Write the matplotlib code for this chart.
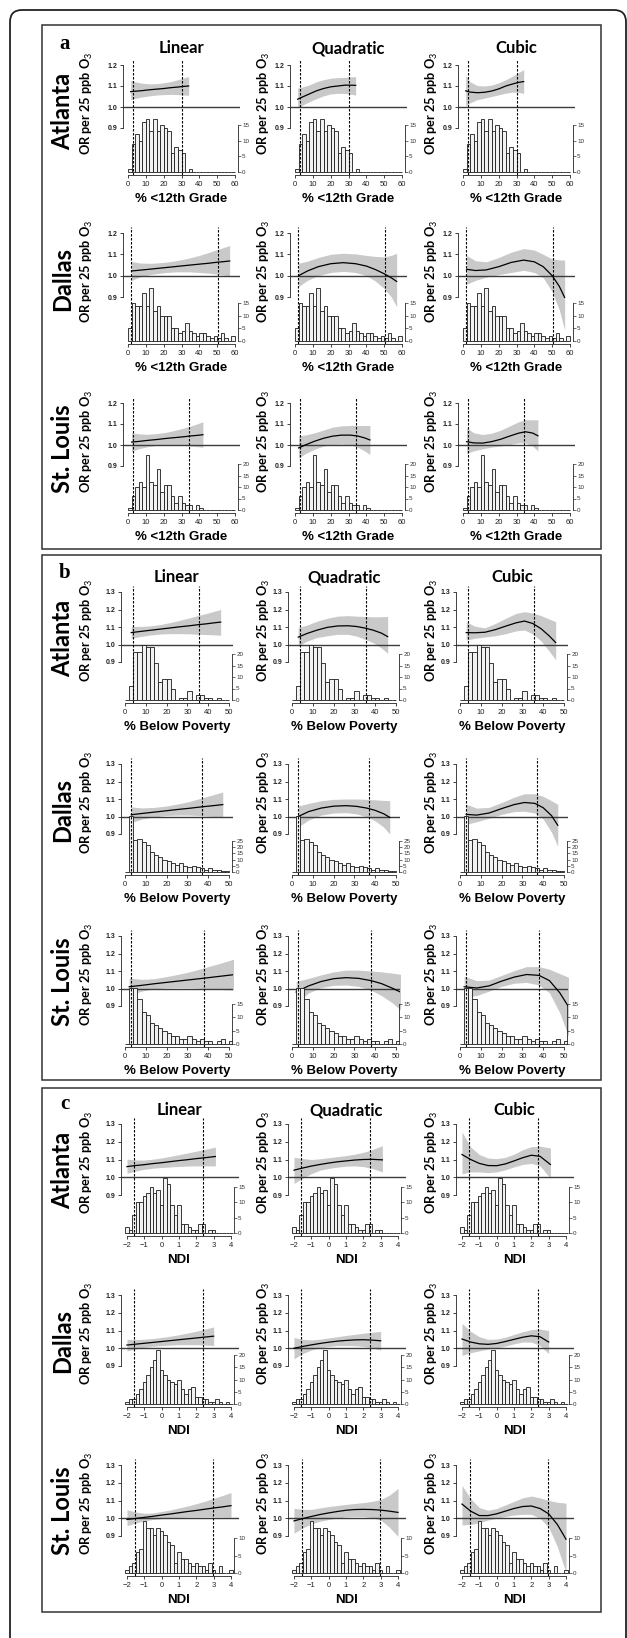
import matplotlib.pyplot as plt
from matplotlib.patches import Rectangle, FancyBboxPatch

plt.rcParams['font.family'] = ['Liberation Sans', 'DejaVu Sans']
plt.rcParams['mathtext.fontset'] = 'custom'
plt.rcParams['mathtext.rm'] = 'Lato'
plt.rcParams['mathtext.it'] = 'Lato:italic'
plt.rcParams['mathtext.bf'] = 'Lato:bold'

models = ["Linear", "Quadratic", "Cubic"]
cities = ["Atlanta", "Dallas", "St. Louis"]

# --- panel a: % <12th Grade ---
a_xlabel = "% <12th Grade"
a_xticks = [0, 10, 20, 30, 40, 50, 60]
a_orticks = [0.9, 1.0, 1.1, 1.2]
a_bin_start, a_bin_width = 0, 2
a_htop = [15, 15, 20]
a_hist_atl = [1, 9, 12, 10, 16, 17, 13, 17, 13, 15, 14, 13, 6, 8, 7, 6, 0, 1,
              0, 0, 0, 0, 0, 0, 0, 0, 0, 0, 0, 0]
a_hist_dal = [5, 15, 14, 14, 19, 14, 21, 12, 14, 10, 10, 10, 5, 5, 3, 4, 7, 4,
              3, 2, 3, 3, 2, 1, 2, 1, 3, 1, 0, 2]
a_hist_stl = [1, 6, 10, 12, 10, 24, 12, 11, 18, 8, 11, 11, 6, 3, 6, 3, 2, 2,
              0, 2, 1, 0, 0, 0, 0, 0, 0, 0, 0, 0]
a_cut_atl, a_cut_dal, a_cut_stl = [2.9, 30.5], [1.9, 50.5], [2.6, 34.3]
a_x_atl = [1.5, 4, 8, 12, 16, 20, 24, 28, 31, 34]
a_est_atl = [[1.073, 1.075, 1.078, 1.082, 1.085, 1.088, 1.092, 1.095, 1.098, 1.100],
             [1.037, 1.047, 1.062, 1.077, 1.088, 1.096, 1.100, 1.104, 1.104, 1.103],
             [1.077, 1.071, 1.068, 1.070, 1.076, 1.086, 1.100, 1.110, 1.117, 1.121]]
a_lo_atl = [[1.035, 1.041, 1.048, 1.053, 1.057, 1.059, 1.060, 1.059, 1.057, 1.056],
            [0.995, 1.008, 1.025, 1.040, 1.053, 1.062, 1.065, 1.065, 1.061, 1.057],
            [1.005, 1.020, 1.035, 1.042, 1.050, 1.058, 1.066, 1.071, 1.070, 1.065]]
a_hi_atl = [[1.128, 1.120, 1.113, 1.110, 1.111, 1.115, 1.121, 1.130, 1.138, 1.145],
            [1.090, 1.095, 1.105, 1.120, 1.130, 1.137, 1.140, 1.141, 1.143, 1.145],
            [1.150, 1.120, 1.102, 1.100, 1.104, 1.115, 1.130, 1.148, 1.163, 1.178]]
a_x_dal = [2, 7, 13, 20, 27, 34, 40, 45, 50, 54, 57]
a_est_dal = [[1.022, 1.026, 1.031, 1.037, 1.043, 1.049, 1.054, 1.058, 1.063, 1.066, 1.069],
             [1.000, 1.022, 1.042, 1.056, 1.061, 1.056, 1.045, 1.029, 1.009, 0.990, 0.973],
             [1.030, 1.024, 1.027, 1.042, 1.062, 1.073, 1.065, 1.042, 1.000, 0.950, 0.898]]
a_lo_dal = [[0.978, 0.995, 1.006, 1.014, 1.018, 1.018, 1.015, 1.012, 1.007, 1.002, 0.998],
            [0.950, 0.978, 1.000, 1.015, 1.020, 1.015, 1.000, 0.975, 0.940, 0.900, 0.855],
            [0.960, 0.978, 0.993, 1.005, 1.015, 1.025, 1.015, 0.990, 0.925, 0.840, 0.745]]
a_hi_dal = [[1.066, 1.059, 1.058, 1.062, 1.070, 1.082, 1.095, 1.108, 1.122, 1.133, 1.141],
            [1.058, 1.068, 1.085, 1.100, 1.105, 1.102, 1.095, 1.090, 1.088, 1.095, 1.105],
            [1.095, 1.070, 1.065, 1.085, 1.110, 1.127, 1.120, 1.100, 1.078, 1.074, 1.073]]
a_x_stl = [2, 6, 11, 16, 21, 26, 31, 35, 39, 42]
a_est_stl = [[1.014, 1.017, 1.022, 1.026, 1.031, 1.035, 1.039, 1.043, 1.046, 1.049],
             [0.986, 1.001, 1.018, 1.032, 1.042, 1.047, 1.047, 1.043, 1.034, 1.024],
             [1.016, 1.010, 1.009, 1.016, 1.027, 1.042, 1.056, 1.063, 1.057, 1.044]]
a_lo_stl = [[0.970, 0.982, 0.992, 0.998, 1.000, 1.000, 0.998, 0.995, 0.992, 0.989],
            [0.938, 0.960, 0.980, 0.995, 1.002, 1.004, 1.000, 0.990, 0.972, 0.955],
            [0.960, 0.972, 0.982, 0.990, 0.995, 1.002, 1.010, 1.010, 0.995, 0.972]]
a_hi_stl = [[1.058, 1.053, 1.051, 1.054, 1.060, 1.069, 1.080, 1.090, 1.101, 1.111],
            [1.044, 1.048, 1.058, 1.071, 1.085, 1.091, 1.093, 1.093, 1.093, 1.093],
            [1.082, 1.058, 1.050, 1.056, 1.070, 1.090, 1.110, 1.120, 1.120, 1.120]]

# --- panel b: % Below Poverty ---
b_xlabel = "% Below Poverty"
b_xticks = [0, 10, 20, 30, 40, 50]
b_orticks = [0.9, 1.0, 1.1, 1.2, 1.3]
b_bin_start, b_bin_width = 0, 2
b_htop = [20, 25, 15]
b_hist_atl = [0, 6, 21, 21, 24, 23, 23, 16, 8, 9, 9, 5, 0, 1, 1, 4, 0, 2, 2, 1,
              1, 0, 1, 0, 0]
b_hist_dal = [0, 45, 26, 27, 24, 22, 16, 14, 12, 10, 9, 7, 6, 7, 5, 4, 5, 4, 3, 2,
              3, 2, 2, 1, 1]
b_hist_stl = [0, 21, 21, 17, 12, 11, 8, 7, 6, 5, 4, 3, 3, 2, 2, 3, 2, 1, 2, 1,
              1, 0, 1, 2, 0, 1, 1]
b_cut_atl, b_cut_dal, b_cut_stl = [4.0, 35.6], [3.0, 37.0], [3.0, 38.0]
b_x_atl = [3, 7, 12, 17, 22, 27, 31, 35, 39, 43, 46]
b_est_atl = [[1.068, 1.074, 1.081, 1.088, 1.095, 1.102, 1.107, 1.113, 1.118, 1.124, 1.128],
             [1.042, 1.062, 1.082, 1.098, 1.106, 1.107, 1.103, 1.094, 1.082, 1.065, 1.045],
             [1.068, 1.067, 1.070, 1.085, 1.105, 1.124, 1.134, 1.120, 1.090, 1.048, 1.011]]
b_lo_atl = [[1.035, 1.045, 1.054, 1.060, 1.062, 1.062, 1.061, 1.059, 1.057, 1.055, 1.053],
            [0.990, 1.018, 1.040, 1.050, 1.058, 1.058, 1.048, 1.030, 1.010, 0.980, 0.950],
            [1.025, 1.035, 1.043, 1.050, 1.062, 1.078, 1.083, 1.060, 1.020, 0.960, 0.913]]
b_hi_atl = [[1.104, 1.103, 1.106, 1.114, 1.126, 1.140, 1.152, 1.165, 1.177, 1.190, 1.200],
            [1.098, 1.110, 1.133, 1.150, 1.162, 1.165, 1.162, 1.160, 1.158, 1.159, 1.160],
            [1.130, 1.105, 1.095, 1.120, 1.150, 1.178, 1.187, 1.180, 1.165, 1.145, 1.130]]
b_x_dal = [3, 8, 14, 20, 26, 31, 36, 40, 44, 47]
b_est_dal = [[1.010, 1.017, 1.025, 1.033, 1.041, 1.047, 1.054, 1.059, 1.064, 1.068],
             [1.000, 1.028, 1.048, 1.059, 1.062, 1.058, 1.048, 1.035, 1.016, 0.995],
             [1.012, 1.008, 1.020, 1.045, 1.068, 1.080, 1.075, 1.050, 1.005, 0.950]]
b_lo_dal = [[0.965, 0.985, 0.998, 1.006, 1.008, 1.008, 1.005, 1.002, 0.998, 0.995],
            [0.940, 0.980, 1.008, 1.020, 1.022, 1.015, 0.998, 0.975, 0.940, 0.900],
            [0.955, 0.970, 0.990, 1.012, 1.028, 1.030, 1.020, 0.985, 0.910, 0.830]]
b_hi_dal = [[1.055, 1.049, 1.052, 1.060, 1.073, 1.086, 1.103, 1.116, 1.130, 1.140],
            [1.060, 1.075, 1.090, 1.098, 1.100, 1.100, 1.098, 1.095, 1.092, 1.090],
            [1.070, 1.048, 1.052, 1.080, 1.110, 1.130, 1.130, 1.115, 1.090, 1.070]]
b_x_stl = [2, 8, 14, 20, 26, 32, 38, 43, 48, 53]
b_est_stl = [[1.010, 1.018, 1.027, 1.035, 1.043, 1.051, 1.059, 1.066, 1.073, 1.080],
             [0.980, 1.015, 1.040, 1.056, 1.062, 1.058, 1.045, 1.028, 1.003, 0.975],
             [1.010, 1.003, 1.015, 1.042, 1.065, 1.080, 1.075, 1.045, 0.975, 0.880]]
b_lo_stl = [[0.960, 0.985, 0.998, 1.003, 1.005, 1.004, 1.000, 0.997, 0.993, 0.990],
            [0.920, 0.975, 1.005, 1.018, 1.020, 1.012, 0.990, 0.960, 0.920, 0.870],
            [0.950, 0.960, 0.985, 1.012, 1.030, 1.035, 1.020, 0.975, 0.860, 0.700]]
b_hi_stl = [[1.060, 1.052, 1.056, 1.068, 1.082, 1.098, 1.118, 1.135, 1.152, 1.170],
            [1.040, 1.058, 1.078, 1.095, 1.105, 1.105, 1.100, 1.095, 1.088, 1.080],
            [1.070, 1.045, 1.048, 1.075, 1.102, 1.125, 1.125, 1.110, 1.085, 1.060]]

# --- panel c: NDI ---
c_xlabel = "NDI"
c_xticks = [-2, -1, 0, 1, 2, 3, 4]
c_orticks = [0.9, 1.0, 1.1, 1.2, 1.3]
c_bin_start, c_bin_width = -2.1, 0.2
c_htop = [15, 20, 10]
c_hist_atl = [2, 1, 6, 10, 10, 12, 13, 15, 13, 14, 9, 18, 16, 9, 6, 9, 3, 3, 2, 1,
              1, 3, 3, 0, 1, 1, 0, 0, 0, 0, 0]
c_hist_dal = [1, 2, 2, 4, 6, 9, 12, 15, 18, 22, 14, 12, 10, 9, 8, 10, 6, 4, 6, 7,
              3, 3, 2, 2, 1, 1, 2, 1, 0, 1, 0]
c_hist_stl = [1, 2, 3, 6, 7, 15, 13, 13, 11, 13, 12, 11, 9, 8, 3, 6, 4, 4, 3, 2,
              3, 2, 2, 1, 3, 1, 0, 2, 0, 0, 1]
c_cut_atl, c_cut_dal, c_cut_stl = [-1.62, 2.36], [-1.6, 2.4], [-1.55, 2.98]
c_x_atl = [-2.0, -1.5, -1.0, -0.5, 0.0, 0.5, 1.0, 1.5, 2.0, 2.5, 3.1]
c_est_atl = [[1.060, 1.066, 1.071, 1.077, 1.082, 1.088, 1.094, 1.099, 1.105, 1.110, 1.117],
             [1.040, 1.052, 1.063, 1.072, 1.080, 1.087, 1.092, 1.097, 1.100, 1.101, 1.098],
             [1.128, 1.100, 1.078, 1.066, 1.065, 1.075, 1.092, 1.110, 1.124, 1.118, 1.072]]
c_lo_atl = [[1.022, 1.035, 1.045, 1.051, 1.055, 1.058, 1.061, 1.063, 1.064, 1.064, 1.064],
            [0.965, 0.995, 1.020, 1.040, 1.050, 1.057, 1.062, 1.064, 1.060, 1.050, 1.030],
            [1.020, 1.030, 1.030, 1.026, 1.030, 1.042, 1.058, 1.072, 1.078, 1.065, 0.994]]
c_hi_atl = [[1.102, 1.097, 1.097, 1.102, 1.109, 1.118, 1.127, 1.137, 1.147, 1.157, 1.170],
            [1.112, 1.105, 1.100, 1.104, 1.110, 1.116, 1.122, 1.130, 1.140, 1.155, 1.178],
            [1.255, 1.170, 1.128, 1.108, 1.105, 1.112, 1.130, 1.155, 1.172, 1.175, 1.165]]
c_x_dal = [-2.0, -1.5, -1.0, -0.5, 0.0, 0.5, 1.0, 1.5, 2.0, 2.5, 3.0]
c_est_dal = [[1.018, 1.023, 1.028, 1.033, 1.038, 1.043, 1.048, 1.053, 1.058, 1.063, 1.068],
             [1.000, 1.010, 1.019, 1.027, 1.034, 1.040, 1.044, 1.047, 1.048, 1.046, 1.042],
             [1.052, 1.035, 1.025, 1.022, 1.027, 1.038, 1.050, 1.062, 1.070, 1.065, 1.035]]
c_lo_dal = [[0.985, 0.996, 1.005, 1.011, 1.015, 1.018, 1.020, 1.020, 1.020, 1.018, 1.015],
            [0.940, 0.970, 0.990, 1.003, 1.010, 1.015, 1.015, 1.014, 1.010, 1.002, 0.990],
            [0.960, 0.975, 0.985, 0.995, 1.002, 1.012, 1.025, 1.035, 1.035, 1.015, 0.970]]
c_hi_dal = [[1.050, 1.049, 1.051, 1.055, 1.061, 1.068, 1.076, 1.086, 1.096, 1.108, 1.120],
            [1.060, 1.050, 1.047, 1.051, 1.058, 1.065, 1.072, 1.078, 1.085, 1.090, 1.095],
            [1.140, 1.095, 1.065, 1.050, 1.052, 1.062, 1.078, 1.093, 1.105, 1.108, 1.100]]
c_x_stl = [-2.0, -1.5, -1.0, -0.5, 0.0, 0.5, 1.0, 1.5, 2.0, 2.5, 3.0, 3.5, 4.0]
c_est_stl = [[0.993, 0.999, 1.005, 1.011, 1.018, 1.024, 1.031, 1.038, 1.044, 1.051, 1.058, 1.064, 1.071],
             [0.985, 0.998, 1.010, 1.021, 1.030, 1.038, 1.045, 1.049, 1.050, 1.049, 1.046, 1.040, 1.033],
             [1.080, 1.040, 1.015, 1.015, 1.025, 1.040, 1.055, 1.066, 1.069, 1.055, 1.025, 0.965, 0.882]]
c_lo_stl = [[0.958, 0.973, 0.985, 0.993, 0.998, 1.002, 1.005, 1.007, 1.008, 1.008, 1.008, 1.007, 1.006],
            [0.916, 0.945, 0.968, 0.983, 0.993, 1.001, 1.008, 1.010, 1.010, 1.003, 0.990, 0.950, 0.898],
            [0.962, 0.965, 0.975, 0.990, 1.000, 1.010, 1.018, 1.022, 1.022, 1.000, 0.950, 0.840, 0.694]]
c_hi_stl = [[1.048, 1.035, 1.028, 1.030, 1.038, 1.047, 1.058, 1.069, 1.082, 1.096, 1.112, 1.128, 1.145],
            [1.056, 1.050, 1.050, 1.058, 1.066, 1.072, 1.078, 1.083, 1.088, 1.095, 1.105, 1.130, 1.168],
            [1.185, 1.110, 1.060, 1.045, 1.055, 1.075, 1.095, 1.115, 1.125, 1.115, 1.100, 1.090, 1.085]]

panels = [
    dict(letter='a', xlabel=a_xlabel, xticks=a_xticks, orticks=a_orticks,
         b0=a_bin_start, bw=a_bin_width, htop=a_htop,
         hist=[a_hist_atl, a_hist_dal, a_hist_stl], cut=[a_cut_atl, a_cut_dal, a_cut_stl],
         x=[a_x_atl, a_x_dal, a_x_stl], est=[a_est_atl, a_est_dal, a_est_stl],
         lo=[a_lo_atl, a_lo_dal, a_lo_stl], hi=[a_hi_atl, a_hi_dal, a_hi_stl]),
    dict(letter='b', xlabel=b_xlabel, xticks=b_xticks, orticks=b_orticks,
         b0=b_bin_start, bw=b_bin_width, htop=b_htop,
         hist=[b_hist_atl, b_hist_dal, b_hist_stl], cut=[b_cut_atl, b_cut_dal, b_cut_stl],
         x=[b_x_atl, b_x_dal, b_x_stl], est=[b_est_atl, b_est_dal, b_est_stl],
         lo=[b_lo_atl, b_lo_dal, b_lo_stl], hi=[b_hi_atl, b_hi_dal, b_hi_stl]),
    dict(letter='c', xlabel=c_xlabel, xticks=c_xticks, orticks=c_orticks,
         b0=c_bin_start, bw=c_bin_width, htop=c_htop,
         hist=[c_hist_atl, c_hist_dal, c_hist_stl], cut=[c_cut_atl, c_cut_dal, c_cut_stl],
         x=[c_x_atl, c_x_dal, c_x_stl], est=[c_est_atl, c_est_dal, c_est_stl],
         lo=[c_lo_atl, c_lo_dal, c_lo_stl], hi=[c_hi_atl, c_hi_dal, c_hi_stl]),
]

# pixel layout of the three boxes; rows = (top OR tick, 0.9 tick, hist zero, hist top tick)
layouts = [
    dict(box=(42, 25, 601, 549), letter_y=44, title_y=48, p0=128, p1=235, padl=5, padr=5,
         rows=[(65, 128, 172, 125), (233, 297, 341, 303), (403, 466, 510, 464)]),
    dict(box=(42, 555, 601, 1080), letter_y=573, title_y=577, p0=125, p1=229, padl=4, padr=4,
         rows=[(592, 662, 700, 654), (764, 834, 872, 841), (936, 1006, 1044, 1004)]),
    dict(box=(42, 1088, 601, 1612), letter_y=1104, title_y=1110, p0=127, p1=231, padl=6, padr=8,
         rows=[(1124, 1195, 1233, 1187), (1295, 1366, 1404, 1355), (1465, 1536, 1573, 1538)]),
]
col_off = [0, 167, 335]
ylab_x = [87, 264, 432]

W, H = 627, 1638
fig = plt.figure(figsize=(W / 100, H / 100), dpi=100)


def ftext(x, y, s, **kw):
    fig.text(x / W, 1 - y / H, s, **kw)


# outer rounded frame (runs off the bottom of the image)
fig.add_artist(FancyBboxPatch((0.10, -0.5), 6.16, 16.78,
                              boxstyle='round,pad=0,rounding_size=0.12',
                              transform=fig.dpi_scale_trans, fill=False,
                              lw=1.3, ec='#222222'))

for P, Lay in zip(panels, layouts):
    x0, x1 = P['xticks'][0], P['xticks'][-1]
    ppu = (Lay['p1'] - Lay['p0']) / (x1 - x0)
    ortop = P['orticks'][-1]
    bx0, by0, bx1, by1 = Lay['box']
    fig.add_artist(Rectangle((bx0 / W, 1 - by1 / H), (bx1 - bx0) / W, (by1 - by0) / H,
                             transform=fig.transFigure, fill=False, lw=1.1, ec='#333333'))
    ftext(65, Lay['letter_y'], P['letter'], family='Liberation Serif', weight='bold',
          size=15, ha='center', va='center')
    xc = (Lay['p0'] + Lay['p1']) / 2
    for c, m in enumerate(models):
        ftext(xc + col_off[c], Lay['title_y'], m, family='Lato', weight='bold',
              size=12, ha='center', va='center')

    for r, city in enumerate(cities):
        t, b, h0, hpx = Lay['rows'][r]
        ftext(63, t + 46, city, rotation=90, family='Lato', weight='bold', size=17,
              ha='center', va='center')
        T, B = t - 6, h0 + 3
        orp = (b - t) / (ortop - 0.9)
        hp = (h0 - hpx) / P['htop'][r]
        counts = P['hist'][r]
        edges = [P['b0'] + i * P['bw'] for i in range(len(counts))]
        xs = P['x'][r]
        for c in range(3):
            L = Lay['p0'] - Lay['padl'] + col_off[c]
            R = Lay['p1'] + Lay['padr'] + col_off[c]
            ax = fig.add_axes([L / W, 1 - B / H, (R - L) / W, (B - T) / H])
            ax.patch.set_visible(False)
            ax.set_xlim(x0 - Lay['padl'] / ppu, x1 + Lay['padr'] / ppu)
            ax.set_ylim(0.9 - (B - b) / orp, 0.9 + (b - T) / orp)
            ax.fill_between(xs, P['lo'][r][c], P['hi'][r][c], color='#c9c9c9', lw=0, zorder=1)
            ax.axhline(1.0, color='#3c3c3c', lw=1.0, zorder=2)
            ax.plot(xs, P['est'][r][c], color='k', lw=0.9, zorder=3)

            ax2 = ax.twinx()
            ax2.patch.set_visible(False)
            ax2.set_ylim(-(B - h0) / hp, (h0 - T) / hp)
            ax2.bar(edges, counts, width=P['bw'], align='edge', facecolor='#f2f2f2',
                    edgecolor='#1a1a1a', lw=0.6, zorder=2)
            for v in P['cut'][r]:
                ax2.axvline(v, color='k', lw=0.8, ls=(0, (2.2, 1.4)), zorder=4)

            for s in ['top', 'right']:
                ax.spines[s].set_visible(False)
            for s in ['top', 'left', 'bottom']:
                ax2.spines[s].set_visible(False)
            ax.spines['left'].set_bounds(0.9, ortop)
            ax.spines['bottom'].set_bounds(x0, x1)
            ax2.spines['right'].set_position(('data', x1 + 3 / ppu))
            ax2.spines['right'].set_bounds(0, P['htop'][r])
            for sp in [ax.spines['left'], ax.spines['bottom'], ax2.spines['right']]:
                sp.set_linewidth(0.6)
                sp.set_color('#222222')

            ax.set_xticks(P['xticks'])
            ax.tick_params(axis='x', length=2.5, width=0.6, pad=1.5, labelsize=5.5,
                           colors='#222222')
            ax.set_yticks(P['orticks'])
            ax.set_yticklabels([f"{v:.1f}" for v in P['orticks']], fontweight='bold')
            ax.tick_params(axis='y', length=2.5, width=0.6, pad=1.5, labelsize=5,
                           colors='#222222')
            ax2.set_yticks(list(range(0, P['htop'][r] + 1, 5)))
            ax2.tick_params(axis='y', length=2, width=0.5, pad=1, labelsize=4.5,
                            colors='#333333')

            ftext(ylab_x[c], t + 38, 'OR per 25 ppb O$_3$', rotation=90, family='Lato',
                  weight='bold', size=9.2, ha='center', va='center')
            ftext(xc + col_off[c], h0 + 27, P['xlabel'], weight='bold', size=9.5,
                  ha='center', va='center')

fig.savefig('out.png', dpi=100)
